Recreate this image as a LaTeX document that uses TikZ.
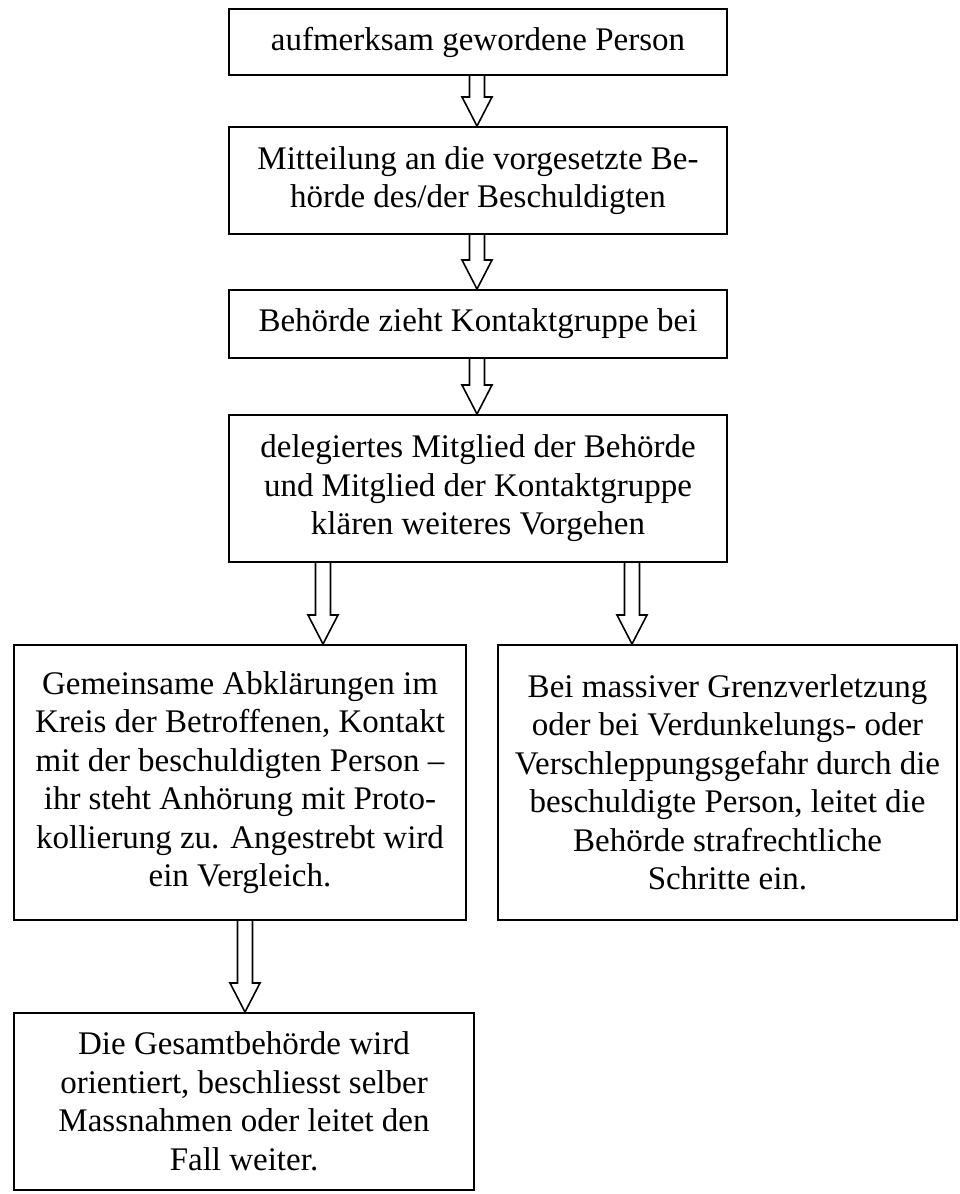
\documentclass[tikz,border=0pt]{standalone}
\usepackage{fontspec}
\setmainfont{Liberation Serif}
\usetikzlibrary{calc}
\tikzset{
  box/.style={draw, line width=2pt, inner sep=0pt, align=center,
    font=\fontsize{33}{38.5}\selectfont},
  blk/.style={draw, line width=1.6pt, fill=white, line join=miter}
}
\newcommand{\blockarr}[3]{%
  \draw[blk] let \p1=([xshift=#3]#1.south), \p2=([xshift=#3]#2.north) in
    (\x1-7.5pt,\y1) -- (\x1-7.5pt,\y2+29pt) -- (\x1-15pt,\y2+29pt) -- (\x1,\y2)
    -- (\x1+15pt,\y2+29pt) -- (\x1+7.5pt,\y2+29pt) -- (\x1+7.5pt,\y1);}
\begin{document}
\begin{tikzpicture}[x=1pt,y=-1pt]
\useasboundingbox (0,0) rectangle (960,1194);
\node[box, minimum width=498pt, minimum height=66pt] (b1) at (478,42) {aufmerksam gewordene Person};
\node[box, minimum width=498pt, minimum height=107pt] (b2) at (478,180.5) {Mitteilung an die vorgesetzte Be-\\hörde des/der Beschuldigten};
\node[box, minimum width=498pt, minimum height=68pt] (b3) at (478,324) {Behörde zieht Kontaktgruppe bei};
\node[box, minimum width=498pt, minimum height=147pt] (b4) at (478,488.5) {delegiertes Mitglied der Behörde\\und Mitglied der Kontaktgruppe\\klären weiteres Vorgehen};
\node[box, minimum width=452pt, minimum height=275pt] (b5) at (240,782.5) {Gemeinsame Abklärungen im\\Kreis der Betroffenen, Kontakt\\mit der beschuldigten Person –\\ihr steht Anhörung mit Proto-\\kollierung zu. Angestrebt wird\\ein Vergleich.};
\node[box, minimum width=459pt, minimum height=275pt] (b6) at (727.5,782.5) {Bei massiver Grenzverletzung\\oder bei Verdunkelungs- oder\\Verschleppungsgefahr durch die\\beschuldigte Person, leitet die\\Behörde strafrechtliche\\Schritte ein.};
\node[box, minimum width=460pt, minimum height=177pt] (b7) at (244,1101.5) {Die Gesamtbehörde wird\\orientiert, beschliesst selber\\Massnahmen oder leitet den\\Fall weiter.};
\blockarr{b1}{b2}{-1pt}
\blockarr{b2}{b3}{-1pt}
\blockarr{b3}{b4}{-1pt}
\blockarr{b4}{b5}{-155pt}
\blockarr{b4}{b6}{154pt}
\blockarr{b5}{b7}{5pt}
\end{tikzpicture}
\end{document}
